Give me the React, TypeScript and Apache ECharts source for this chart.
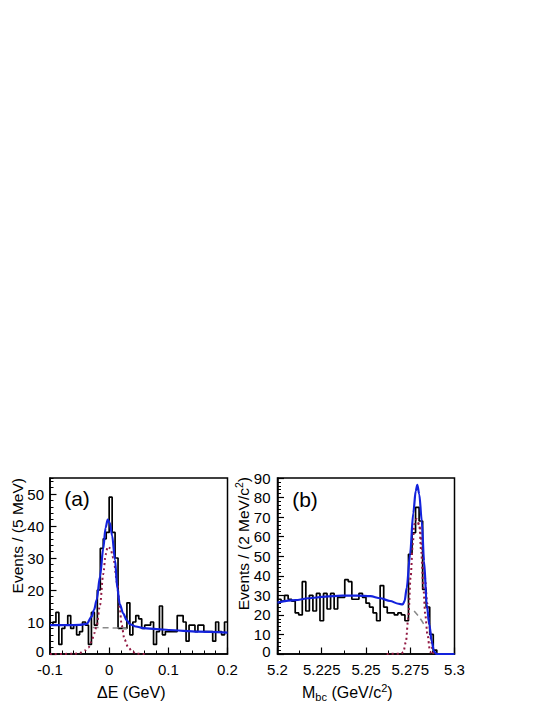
import React, { useEffect, useRef } from "react";
import * as echarts from "echarts";

// ---------- data ----------
// Panel (a): Delta E, 5 MeV bins from -0.1 to 0.2 GeV
const deMin = -0.1;
const deStep = 0.005;
const deCounts = [
  9, 10, 13, 3, 8, 9, 12, 8, 9, 6,
  7, 10, 9, 3, 13, 9, 20, 33, 36, 38,
  49, 38, 30, 8, 8, 8, 16, 6, 10, 12,
  11, 8, 9, 9, 10, 3, 7, 15, 6, 7,
  7, 7, 7, 12, 12, 10, 4, 9, 9, 7,
  9, 9, 7, 7, 7, 4, 10, 7, 6, 10,
];
const deFit: [number, number][] = [
  [-0.1, 9.0], [-0.07, 9.0], [-0.05, 9.1], [-0.038, 9.4], [-0.0296, 11.7],
  [-0.0255, 13.8], [-0.0211, 16.9], [-0.0155, 24.2], [-0.01, 33], [-0.006, 39.5],
  [-0.0025, 42], [0.001, 41], [0.005, 37], [0.0099, 29.4], [0.0138, 20.5],
  [0.018, 15.5], [0.0239, 12.6], [0.0295, 10.6], [0.0352, 9.3], [0.045, 8.6],
  [0.0577, 8.1], [0.08, 7.8], [0.1006, 7.5], [0.15, 7.0], [0.2, 6.7],
];
const deSig: [number, number][] = [
  [-0.1, 0], [-0.06, 0.05], [-0.05, 0.3], [-0.04, 1.2], [-0.035, 2], [-0.03, 3.8],
  [-0.025, 6.5], [-0.021, 9], [-0.0155, 15.3], [-0.01, 25], [-0.006, 31],
  [-0.0025, 33.5], [0.002, 33], [0.007, 30], [0.0138, 22], [0.018, 14],
  [0.0211, 9], [0.026, 4.5], [0.0323, 2], [0.04, 0.6], [0.047, 0.1], [0.06, 0],
];
const deBkg: [number, number][] = [
  [-0.028, 8.3], [0.0, 8.2], [0.03, 8.0],
];
const deXLabels = ["-0.1", "0", "0.1", "0.2"];

// Panel (b): Mbc, 2 MeV bins from 5.2 to 5.3 GeV/c^2
const mbcMin = 5.2;
const mbcStep = 0.002;
const mbcCounts = [
  28, 27, 30, 28, 27, 21, 20, 37, 22, 30,
  22, 31, 17, 31, 23, 31, 23, 29, 29, 38,
  37, 28, 28, 31, 29, 26, 24, 21, 17, 35,
  24, 21, 21, 20, 21, 20, 17, 51, 62, 75,
  68, 33, 24, 10, 2, 0, 0, 0, 0, 0,
];
const mbcFit: [number, number][] = [
  [5.2, 26.3], [5.21, 27.5], [5.2175, 28.5], [5.227, 29.3], [5.2365, 29.8],
  [5.245, 29.9], [5.2525, 29.6], [5.258, 28.5], [5.2636, 27.1], [5.2683, 25.7],
  [5.2707, 25.3], [5.2718, 27], [5.273, 33.8], [5.2749, 51], [5.2767, 72],
  [5.2781, 83.4], [5.279, 86.5], [5.2801, 81.7], [5.2815, 68], [5.2828, 47.5],
  [5.2843, 25.3], [5.2858, 15], [5.2871, 6.5], [5.2884, 1.4], [5.2899, 0], [5.3, 0],
];
const mbcSig: [number, number][] = [
  [5.2617, 0], [5.27, 0.2], [5.2711, 1], [5.2725, 6], [5.2739, 18.5],
  [5.2752, 39], [5.2764, 56], [5.2773, 66.3], [5.2786, 69], [5.2801, 66.3],
  [5.2812, 52], [5.2824, 34], [5.2835, 20], [5.2847, 10], [5.2862, 1.4], [5.2868, 0],
];
const mbcSig2: [number, number][] = [
  [5.2795, 67], [5.2805, 64.6], [5.2818, 53], [5.2833, 39], [5.2846, 26],
  [5.2858, 15], [5.2868, 7], [5.2877, 1.4], [5.2881, 0],
];
const mbcBkg: [number, number][] = [
  [5.2772, 22], [5.2795, 19.5], [5.2815, 17], [5.2835, 14],
];
const mbcXLabels = ["5.2", "5.225", "5.25", "5.275", "5.3"];

// ---------- helpers ----------
function histPoints(vals: number[], min: number, step: number): [number, number][] {
  const pts: [number, number][] = [];
  vals.forEach((v, i) => {
    const lo = +(min + i * step).toFixed(6);
    const hi = +(min + (i + 1) * step).toFixed(6);
    pts.push([lo, v], [hi, v]);
  });
  return pts;
}
function labelFrom(list: string[]) {
  return (v: number) => {
    let best = "";
    let d = Infinity;
    list.forEach((s) => {
      const dd = Math.abs(parseFloat(s) - v);
      if (dd < d) { d = dd; best = s; }
    });
    return d < 1e-6 ? best : "";
  };
}
const yLabel = (v: number) => (v === 0 ? "{z|0}" : String(v));

const FONT = '"Liberation Sans", Arial, Helvetica, sans-serif';
const BLUE = "#1322dc";
const RED = "#921a43";
const GRAY = "#8a8a8a";

const axisCommon = {
  axisLine: { show: true, onZero: false, lineStyle: { color: "#000", width: 1.5 } },
  axisTick: { show: true, inside: true, length: 6.5, lineStyle: { color: "#000", width: 1.2 } },
  splitLine: { show: false },
};

export default function App() {
  const ref = useRef<HTMLDivElement>(null);
  useEffect(() => {
    if (!ref.current) return;
    const chart = echarts.init(ref.current, null, { renderer: "svg" });
    const labelStyle = { color: "#000", fontSize: 15, fontFamily: FONT, lineHeight: 11 };
    const zRich = { z: { fontSize: 15, fontFamily: FONT, color: "#000", lineHeight: 11, padding: [0, 0, 6, 0] } };
    const option: any = {
      animation: false,
      textStyle: { fontFamily: FONT },
      grid: [
        { left: 50, top: 478, width: 177.5, height: 176, show: true, borderColor: "#000", borderWidth: 1.5 },
        { left: 277.5, top: 478, width: 177, height: 176, show: true, borderColor: "#000", borderWidth: 1.5 },
      ],
      xAxis: [
        {
          gridIndex: 0, type: "value", min: -0.1, max: 0.2, interval: 0.1,
          ...axisCommon,
          minorTick: { show: true, splitNumber: 5, length: 3.5, lineStyle: { color: "#000", width: 1 } },
          axisLabel: { ...labelStyle, margin: 10, formatter: labelFrom(deXLabels) },
        },
        {
          gridIndex: 1, type: "value", min: 5.2, max: 5.3, interval: 0.025,
          ...axisCommon,
          minorTick: { show: true, splitNumber: 2, length: 3.5, lineStyle: { color: "#000", width: 1 } },
          axisLabel: { ...labelStyle, margin: 10, formatter: labelFrom(mbcXLabels) },
        },
      ],
      yAxis: [
        {
          gridIndex: 0, type: "value", min: 0, max: 55, interval: 10, position: "left",
          ...axisCommon,
          minorTick: { show: false },
          axisLabel: { ...labelStyle, margin: 6, showMaxLabel: false, formatter: yLabel, rich: zRich },
        },
        {
          gridIndex: 0, type: "value", min: 0, max: 55, interval: 2, position: "left", offset: 0,
          axisLine: { show: false, onZero: false },
          axisTick: { show: true, inside: true, length: 3.5, lineStyle: { color: "#000", width: 1 } },
          axisLabel: { show: false },
          splitLine: { show: false },
        },
        {
          gridIndex: 1, type: "value", min: 0, max: 90, interval: 10, position: "left",
          ...axisCommon,
          minorTick: { show: true, splitNumber: 5, length: 3.5, lineStyle: { color: "#000", width: 1 } },
          axisLabel: { ...labelStyle, margin: 7, formatter: yLabel, rich: zRich },
        },
      ],
      series: [
        {
          type: "line", xAxisIndex: 0, yAxisIndex: 0, data: histPoints(deCounts, deMin, deStep),
          showSymbol: false, lineStyle: { color: "#000", width: 1.7 }, z: 2,
        },
        {
          type: "line", xAxisIndex: 0, yAxisIndex: 0, data: deBkg, showSymbol: false,
          lineStyle: { color: GRAY, width: 1.5, type: [6, 4] }, z: 3,
        },
        {
          type: "line", xAxisIndex: 0, yAxisIndex: 0, data: deSig, showSymbol: false,
          smooth: 0.3, smoothMonotone: "x",
          lineStyle: { color: RED, width: 2, type: [2, 3] }, z: 4,
        },
        {
          type: "line", xAxisIndex: 0, yAxisIndex: 0, data: deFit, showSymbol: false,
          smooth: 0.3, smoothMonotone: "x",
          lineStyle: { color: BLUE, width: 2.2 }, z: 5,
        },
        {
          type: "line", xAxisIndex: 1, yAxisIndex: 2, data: histPoints(mbcCounts, mbcMin, mbcStep),
          showSymbol: false, lineStyle: { color: "#000", width: 1.7 }, z: 2,
        },
        {
          type: "line", xAxisIndex: 1, yAxisIndex: 2, data: mbcBkg, showSymbol: false,
          lineStyle: { color: GRAY, width: 1.5, type: [6, 4] }, z: 3,
        },
        {
          type: "line", xAxisIndex: 1, yAxisIndex: 2, data: mbcSig, showSymbol: false,
          smooth: 0.3, smoothMonotone: "x",
          lineStyle: { color: RED, width: 2, type: [2, 3] }, z: 4,
        },
        {
          type: "line", xAxisIndex: 1, yAxisIndex: 2, data: mbcSig2, showSymbol: false,
          smooth: 0.3, smoothMonotone: "x",
          lineStyle: { color: RED, width: 2, type: [2, 3] }, z: 4,
        },
        {
          type: "line", xAxisIndex: 1, yAxisIndex: 2, data: mbcFit, showSymbol: false,
          smooth: 0.3, smoothMonotone: "x",
          lineStyle: { color: BLUE, width: 2.2 }, z: 5,
        },
      ],
      graphic: [
        {
          type: "text", x: 17, y: 478, rotation: Math.PI / 2,
          style: { text: "Events / (5 MeV)", fontSize: 15.5, fontFamily: FONT, fill: "#000", align: "right", verticalAlign: "middle" },
        },
        {
          type: "text", x: 243, y: 477, rotation: Math.PI / 2,
          style: {
            text: "{n|Events / (2 MeV/c}{s|2}{n|)}",
            fill: "#000", align: "right", verticalAlign: "middle",
            rich: {
              n: { fontSize: 15.5, fontFamily: FONT, lineHeight: 20, verticalAlign: "middle", fill: "#000" },
              s: { fontSize: 10.5, fontFamily: FONT, verticalAlign: "top", fill: "#000" },
            },
          },
        },
        {
          type: "text", x: 97, y: 692,
          style: { text: "ΔE (GeV)", fontSize: 16, fontFamily: FONT, fill: "#000", align: "left", verticalAlign: "middle" },
        },
        {
          type: "text", x: 302, y: 692,
          style: {
            text: "{n|M}{b|bc}{n| (GeV/c}{s|2}{n|)}",
            fill: "#000", align: "left", verticalAlign: "middle",
            rich: {
              n: { fontSize: 16, fontFamily: FONT, lineHeight: 20, verticalAlign: "middle", fill: "#000" },
              b: { fontSize: 11, fontFamily: FONT, verticalAlign: "bottom", fill: "#000" },
              s: { fontSize: 11, fontFamily: FONT, verticalAlign: "top", fill: "#000" },
            },
          },
        },
        {
          type: "text", x: 77, y: 498,
          style: { text: "(a)", fontSize: 21, fontFamily: FONT, fill: "#000", align: "center", verticalAlign: "middle" },
        },
        {
          type: "text", x: 305, y: 499,
          style: { text: "(b)", fontSize: 21, fontFamily: FONT, fill: "#000", align: "center", verticalAlign: "middle" },
        },
      ],
    };
    chart.setOption(option);
    return () => chart.dispose();
  }, []);
  return (
    <div
      ref={ref}
      style={{ position: "absolute", left: 0, top: 0, width: 545, height: 705, background: "#fff" }}
    />
  );
}
